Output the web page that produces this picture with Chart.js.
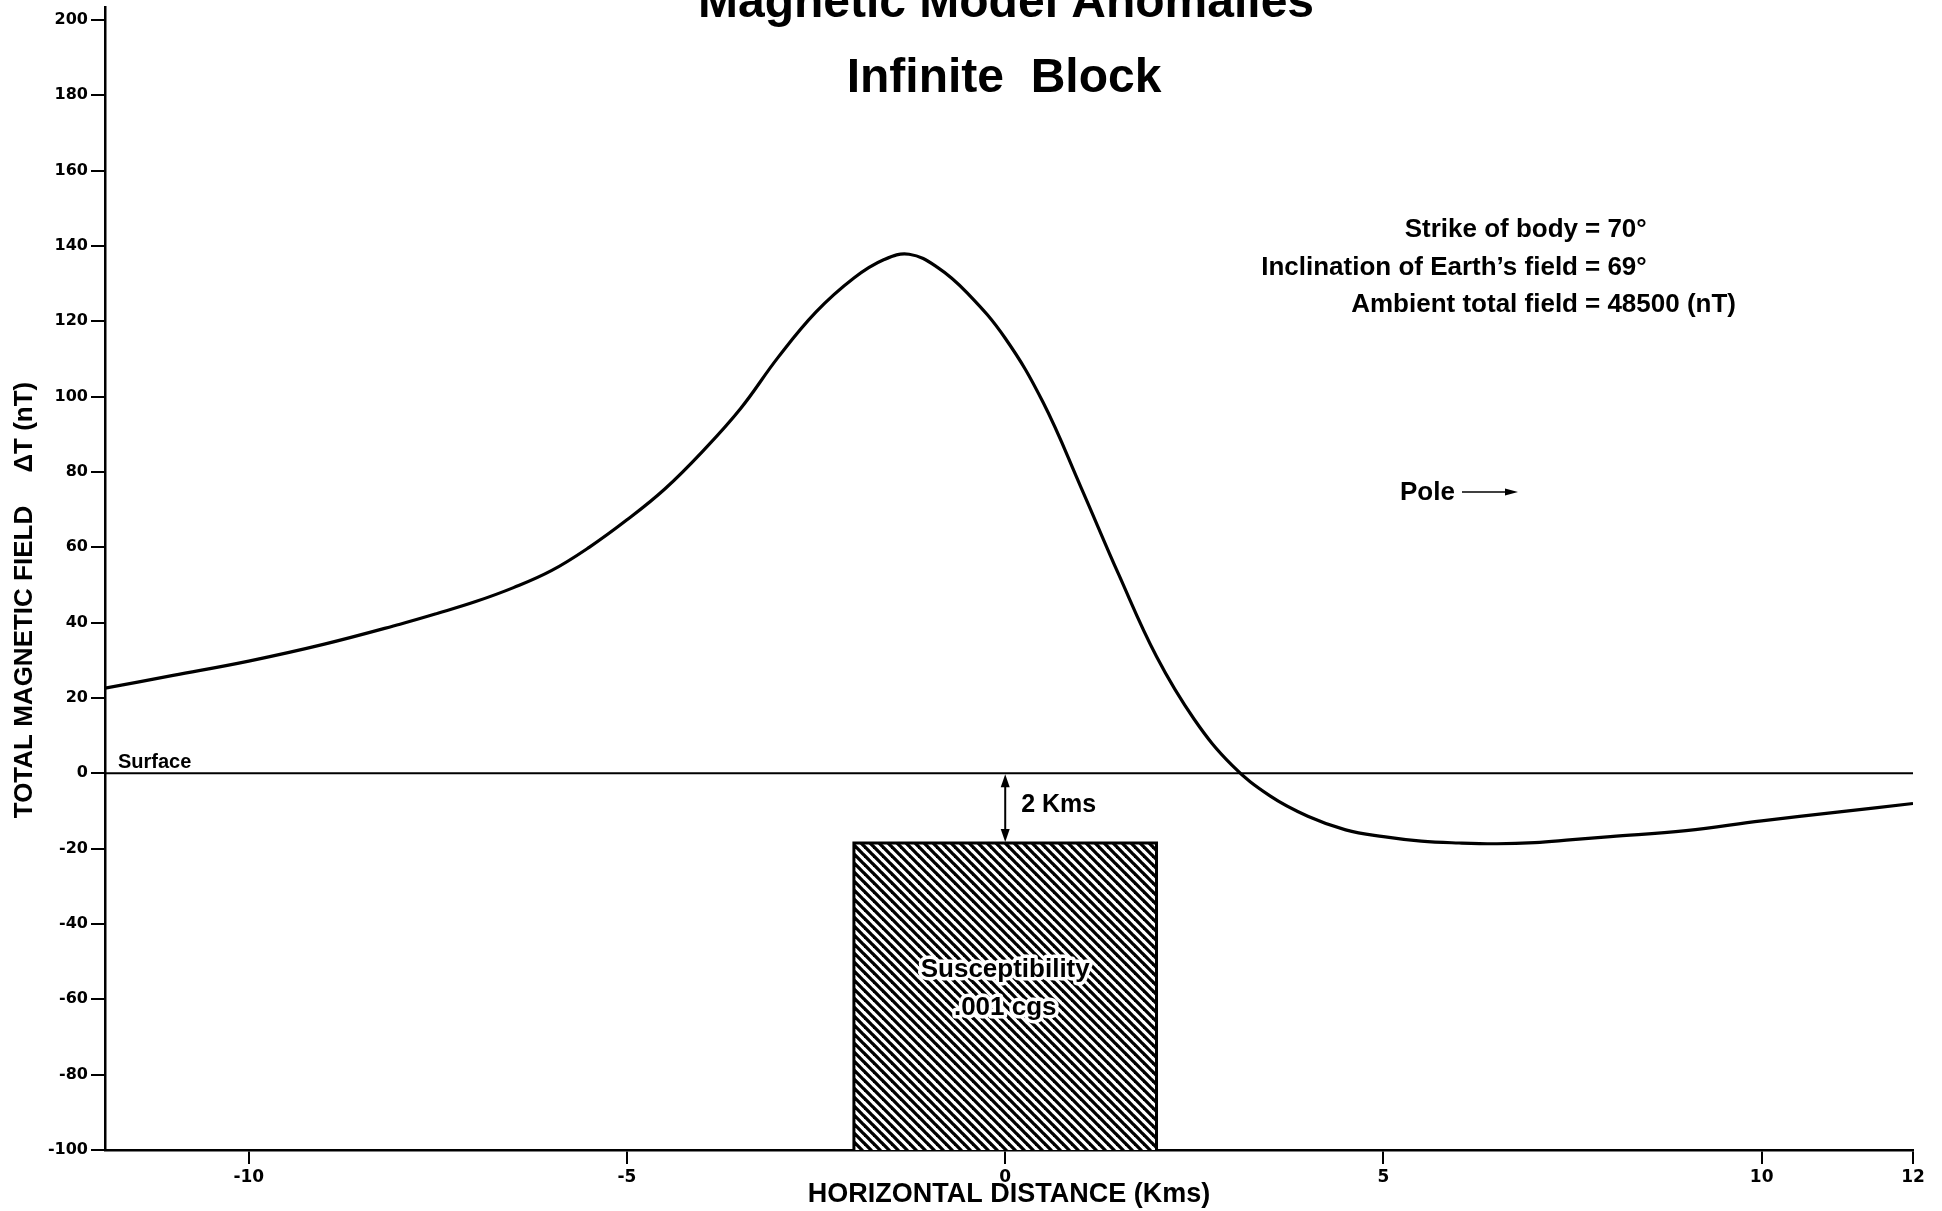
<!DOCTYPE html>
<html>
<head>
<meta charset="utf-8">
<title>Magnetic Model Anomalies – Infinite Block</title>
<script src="https://cdn.jsdelivr.net/npm/chart.js@4.4.1/dist/chart.umd.min.js"></script>
<style>
  html, body { margin: 0; padding: 0; background: #fff; }
  canvas { display: block; }
</style>
</head>
<body>
<canvas id="chart" width="1942" height="1211"></canvas>
<script>
// Profile positions (km) and computed total-field anomaly ΔT (nT)
const distanceKm = [-11.9, -11, -10, -9, -8, -7.5, -7, -6.5, -6, -5.5, -5, -4.5, -4, -3.5, -3, -2.5, -2, -1.6, -1.27, -0.9, -0.5, 0,
                    0.5, 1, 1.5, 2, 2.5, 3, 3.5, 4, 4.5, 5, 5.5, 6, 6.5, 7, 7.5, 8, 9, 10, 11, 12];
const anomalyNT  = [22.6, 26.0, 29.8, 34.3, 39.6, 42.5, 45.6, 49.3, 53.8, 60.0, 67.3, 75.5, 85.5, 96.8, 110.5, 122.5, 131.5, 136.4, 137.8, 134.4, 127.5, 115.5,
                    98.5, 76.0, 52.8, 31.0, 14.3, 2.1, -6.0, -11.4, -15.0, -16.8, -18.0, -18.5, -18.7, -18.4, -17.6, -16.8, -15.2, -12.6, -10.3, -8.0];

// Buried block cross-section (km along profile, plotted depth on the ΔT axis)
const blockX = [-2, -2, 2, 2];
const blockY = [-100, -18.5, -18.5, -100];
const depthMarkerX = 0;          // where the "2 Kms" depth arrow sits
const surfaceLevel = 0;

// Axis extents and tick marks
const xRange = [-11.9, 12];
const yRange = [-100, 203.45];
const xTicks = [-10, -5, 0, 5, 10, 12];
const yTicks = [-100, -80, -60, -40, -20, 0, 20, 40, 60, 80, 100, 120, 140, 160, 180, 200];

const FONT = '"Liberation Sans", Arial, Helvetica, sans-serif';
const bold = size => `bold ${size}px ${FONT}`;

const canvas = document.getElementById('chart');
const mainCtx = canvas.getContext('2d');

// Diagonal hatch used for the magnetised body
function makeHatch() {
  const s = 9;
  const tile = document.createElement('canvas');
  tile.width = s; tile.height = s;
  const g = tile.getContext('2d');
  g.fillStyle = '#fff';
  g.fillRect(0, 0, s, s);
  g.strokeStyle = '#000';
  g.lineWidth = 3.3;
  for (const k of [-1, 0, 1]) {
    g.beginPath();
    g.moveTo(k * s - 2, -2);
    g.lineTo(k * s + s + 2, s + 2);
    g.stroke();
  }
  return mainCtx.createPattern(tile, 'repeat');
}

function arrowHead(ctx, x, y, dir, len, half) {
  // dir: unit vector the arrow points along
  const [dx, dy] = dir;
  ctx.beginPath();
  ctx.moveTo(x, y);
  ctx.lineTo(x - dx * len - dy * half, y - dy * len + dx * half);
  ctx.lineTo(x - dx * len + dy * half, y - dy * len - dx * half);
  ctx.closePath();
  ctx.fill();
}

const annotations = {
  id: 'annotations',
  afterDraw(chart) {
    const { ctx, scales: { x, y } } = chart;
    ctx.save();
    ctx.fillStyle = '#000';
    ctx.strokeStyle = '#000';

    // Title
    ctx.textAlign = 'center';
    ctx.textBaseline = 'alphabetic';
    ctx.font = bold(48);
    ctx.fillText('Magnetic Model Anomalies', 1006, 17);
    ctx.fillText('Infinite  Block', 1004, 92);

    // Model parameters, lined up on the "=" sign
    ctx.font = bold(26);
    const eqX = 1585;
    const params = [
      ['Strike of body', '= 70°', 237],
      ['Inclination of Earth\u2019s field', '= 69°', 275],
      ['Ambient total field', '= 48500 (nT)', 312]
    ];
    for (const [label, value, baseY] of params) {
      ctx.textAlign = 'right';
      ctx.fillText(label, eqX - 7, baseY);
      ctx.textAlign = 'left';
      ctx.fillText(value, eqX, baseY);
    }

    // Pole direction
    ctx.textAlign = 'left';
    ctx.fillText('Pole', 1400, 500);
    ctx.lineWidth = 1.6;
    ctx.beginPath();
    ctx.moveTo(1462, 492);
    ctx.lineTo(1508, 492);
    ctx.stroke();
    arrowHead(ctx, 1518, 492, [1, 0], 13, 3.5);

    // Surface label
    ctx.font = bold(20);
    ctx.fillText('Surface', 118, 768);

    // Depth-to-top arrow
    const ax = x.getPixelForValue(depthMarkerX);
    const yTop = y.getPixelForValue(surfaceLevel);
    const yBot = y.getPixelForValue(blockY[1]);
    ctx.lineWidth = 2;
    ctx.beginPath();
    ctx.moveTo(ax, yTop + 10);
    ctx.lineTo(ax, yBot - 10);
    ctx.stroke();
    arrowHead(ctx, ax, yTop + 1, [0, -1], 13, 4.5);
    arrowHead(ctx, ax, yBot - 1, [0, 1], 13, 4.5);
    ctx.font = bold(25);
    ctx.fillText('2 Kms', ax + 16, 812);

    // Body label with a white halo over the hatching
    ctx.font = bold(26);
    ctx.textAlign = 'center';
    ctx.lineJoin = 'round';
    ctx.lineWidth = 7;
    ctx.strokeStyle = '#fff';
    const cx = (x.getPixelForValue(blockX[1]) + x.getPixelForValue(blockX[2])) / 2;
    for (const [t, by] of [['Susceptibility', 977], ['.001 cgs', 1015]]) {
      ctx.strokeText(t, cx, by);
      ctx.fillText(t, cx, by);
    }

    // Vertical axis title
    ctx.save();
    ctx.translate(25, 600);
    ctx.rotate(-Math.PI / 2);
    ctx.textBaseline = 'middle';
    ctx.font = bold(26);
    ctx.fillStyle = '#000';
    ctx.fillText('TOTAL MAGNETIC FIELD\u2003 \u0394T (nT)', 0, 0);
    ctx.restore();

    ctx.restore();
  }
};

const yTickFont = { family: '"DejaVu Sans", "Liberation Sans", sans-serif', weight: 'bold', size: 16 };
const xTickFont = { family: '"DejaVu Sans", "Liberation Sans", sans-serif', weight: 'bold', size: 17 };

new Chart(mainCtx, {
  type: 'line',
  data: {
    datasets: [
      {
        label: 'ΔT',
        data: distanceKm.map((d, i) => ({ x: d, y: anomalyNT[i] })),
        borderColor: '#000',
        borderWidth: 3.2,
        pointRadius: 0,
        tension: 0.4,
        fill: false
      },
      {
        label: 'Surface',
        data: xRange.map(d => ({ x: d, y: surfaceLevel })),
        borderColor: '#000',
        borderWidth: 2,
        pointRadius: 0,
        fill: false
      },
      {
        label: 'Block',
        data: blockX.map((d, i) => ({ x: d, y: blockY[i] })),
        borderColor: '#000',
        borderWidth: 3,
        pointRadius: 0,
        tension: 0,
        backgroundColor: makeHatch(),
        fill: 'start'
      }
    ]
  },
  options: {
    responsive: false,
    animation: false,
    devicePixelRatio: 1,
    events: [],
    layout: { padding: { top: 7, right: 29, bottom: 0, left: 0 } },
    plugins: {
      legend: { display: false },
      tooltip: { enabled: false },
      title: { display: false }
    },
    scales: {
      x: {
        type: 'linear',
        min: xRange[0],
        max: xRange[1],
        z: 1,
        afterBuildTicks: s => { s.ticks = xTicks.map(v => ({ value: v })); },
        afterFit: s => { s.height = 61; s.paddingLeft = 0; s.paddingRight = 0; },
        border: { display: true, color: '#000', width: 2.5 },
        grid: { display: true, drawOnChartArea: false, drawTicks: true, tickLength: 14, lineWidth: 2, color: '#000', tickColor: '#000' },
        ticks: { color: '#000', font: xTickFont, padding: 3, maxRotation: 0, autoSkip: false, callback: v => String(v) },
        title: {
          display: true,
          text: 'HORIZONTAL DISTANCE (Kms)',
          color: '#000',
          font: { family: FONT, weight: 'bold', size: 27 },
          padding: { top: 0, bottom: 0 }
        }
      },
      y: {
        type: 'linear',
        min: yRange[0],
        max: yRange[1],
        z: 1,
        afterBuildTicks: s => { s.ticks = yTicks.map(v => ({ value: v })); },
        afterFit: s => { s.width = 105; s.paddingTop = 0; s.paddingBottom = 0; },
        border: { display: true, color: '#000', width: 2.5 },
        grid: { display: true, drawOnChartArea: false, drawTicks: true, tickLength: 14, lineWidth: 2, color: '#000', tickColor: '#000' },
        ticks: { color: '#000', font: yTickFont, padding: 3, autoSkip: false, callback: v => String(v) }
      }
    }
  },
  plugins: [annotations]
});
</script>
</body>
</html>
